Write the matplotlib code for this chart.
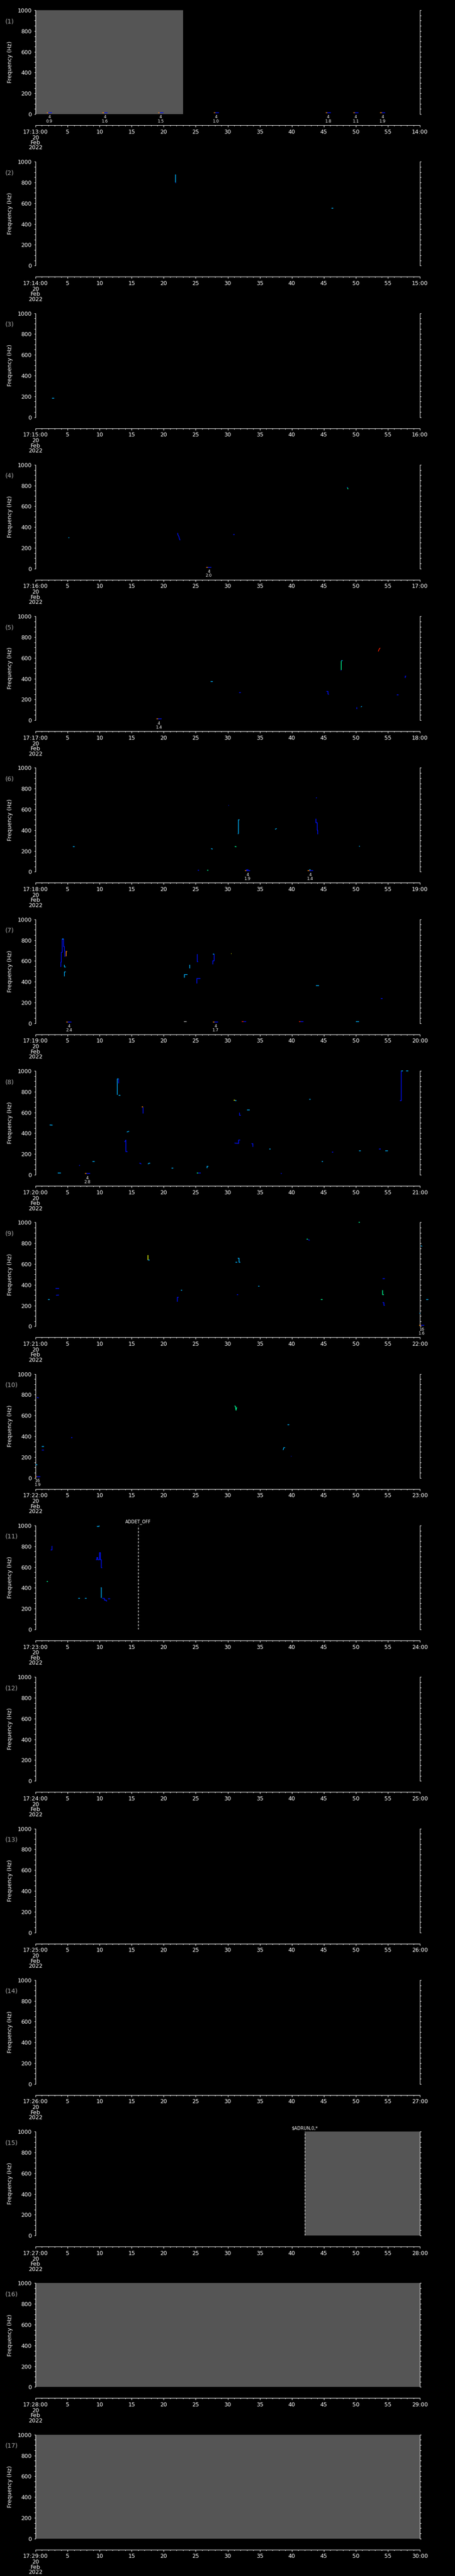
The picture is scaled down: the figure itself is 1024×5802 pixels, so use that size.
import matplotlib
matplotlib.use("Agg")
import matplotlib.pyplot as plt
from matplotlib.ticker import MultipleLocator

# ---------------------------------------------------------------- style
BG = "black"
FG = "white"
NODATA = "#555555"
TAG = "#a8a8a8"
B = "#0010ff"   # blue
C = "#00b4ff"   # cyan
G = "#00ff96"   # green
Y = "#f0ff00"   # yellow
O = "#ff8c00"   # orange
R = "#ff2000"   # red

W, H, DPI = 1024, 5802, 100
N_PANELS = 17

plt.rcParams["font.family"] = ["DejaVu Sans"]
plt.rcParams["text.color"] = FG

# ---------------------------------------------------------------- data
START_LABELS = ["17:13:00", "17:14:00", "17:15:00", "17:16:00", "17:17:00",
                "17:18:00", "17:19:00", "17:20:00", "17:21:00", "17:22:00",
                "17:23:00", "17:24:00", "17:25:00", "17:26:00", "17:27:00",
                "17:28:00", "17:29:00"]
END_LABELS = ["14:00", "15:00", "16:00", "17:00", "18:00", "19:00", "20:00",
              "21:00", "22:00", "23:00", "24:00", "25:00", "26:00", "27:00",
              "28:00", "29:00", "30:00"]
MID_LABELS = ["5", "10", "15", "20", "25", "30", "35", "40", "45", "50", "55"]
DATE_LINES = ["20", "Feb", "2022"]

# no-data spans (minutes) per panel
GRAY_SPANS = {1: (0, 23), 15: (42, 60), 16: (0, 60), 17: (0, 60)}
# event lines (minute, label)
EVENTS = {11: (16, "ADDET_OFF"), 15: (42, "$ADRUN,0,*")}

# small annotations at the bottom of the panels
ANNOT_T = {1: [2.15, 10.85, 19.55, 28.2, 45.7, 50.0, 54.2], 4: [27.05],
           5: [19.26], 6: [33.1, 42.9], 7: [5.2, 28.1], 8: [8.1],
           9: [60.3], 10: [0.35]}
ANNOT_N = {1: ["4"] * 7, 4: ["4"], 5: ["4"], 6: ["4", "4"], 7: ["4", "4"],
           8: ["4"], 9: ["16"], 10: ["16"]}
ANNOT_V = {1: ["0.9", "1.6", "1.5", "1.0", "1.8", "1.1", "1.9"], 4: ["2.0"],
           5: ["1.4"], 6: ["1.9", "1.4"], 7: ["2.4", "1.7"], 8: ["2.8"],
           9: ["1.6"], 10: ["1.9"]}

# traces: (minutes, frequencies Hz, colour)
MARKS_2 = [([21.82, 21.82], [878, 800], C), ([21.82, 21.95], [796, 796], B),
           ([46.2, 46.45], [554, 554], C)]
MARKS_3 = [([2.6, 2.9], [182, 182], C)]
MARKS_4 = [([5.1, 5.3], [299, 299], C),
           ([22.2, 22.2, 22.38, 22.45, 22.56], [344, 330, 308, 290, 274], B),
           ([30.9, 31.05], [330, 330], B),
           ([48.6, 48.7], [785, 782], B), ([48.7, 48.78], [780, 765], G)]
MARKS_5 = [([27.3, 27.65], [371, 371], C),
           ([31.8, 32.05], [265, 265], B),
           ([45.4, 45.65, 45.65, 45.8], [277, 277, 252, 249], B),
           ([47.75, 47.75], [482, 570], G), ([47.75, 47.95], [573, 573], C),
           ([47.65, 47.75], [480, 480], B),
           ([53.5, 53.65, 53.8], [662, 685, 696], R),
           ([50.15, 50.15], [106, 126], B),
           ([50.8, 50.95], [128, 134], C),
           ([56.4, 56.7], [243, 243], B),
           ([57.7, 57.7, 57.85], [405, 425, 425], B)]
MARKS_6 = [([5.85, 6.1], [240, 240], C),
           ([25.3, 25.5], [14, 14], B),
           ([26.8, 26.95], [14, 14], G),
           ([27.4, 27.65], [223, 218], C),
           ([30.1, 30.18], [637, 637], B),
           ([31.1, 31.35], [243, 240], G),
           ([31.6, 31.67, 31.67, 31.85], [363, 370, 500, 500], C),
           ([32.9, 33.2], [20, 20], B),
           ([37.4, 37.55, 37.65], [408, 414, 416], C),
           ([43.8, 43.88], [712, 712], B),
           ([43.8, 43.8, 43.95, 43.95, 44.05, 44.05],
            [511, 470, 470, 400, 400, 363], B),
           ([42.7, 42.95], [20, 20], C),
           ([50.5, 50.65], [246, 246], C)]
MARKS_7 = [([3.85, 3.95, 3.95, 4.05, 4.05, 4.15, 4.15, 4.4, 4.4, 4.5, 4.5, 4.6, 4.6],
            [545, 545, 590, 590, 684, 684, 810, 810, 740, 740, 700, 700, 640], B),
           ([4.15, 4.4], [810, 810], C),
           ([4.75, 4.8, 4.8, 4.95], [648, 648, 690, 690], O),
           ([4.45, 4.5, 4.5, 4.75], [560, 560, 542, 542], C),
           ([4.5, 4.5, 4.75], [452, 494, 494], C),
           ([23.25, 23.25, 23.7], [438, 469, 469], C),
           ([24.1, 24.1], [531, 564], C),
           ([25.25, 25.25, 25.4], [665, 592, 592], B),
           ([25.15, 25.15, 25.7], [385, 430, 430], B),
           ([27.65, 27.65, 27.85, 27.85], [567, 600, 600, 665], B),
           ([27.7, 27.85], [665, 665], C),
           ([30.5, 30.6], [670, 670], Y),
           ([43.8, 44.25], [363, 363], C),
           ([53.9, 54.15], [237, 237], B),
           ([23.15, 23.6], [17, 17], "#b0b0b0"),
           ([32.2, 32.45], [14, 14], R), ([32.45, 32.85], [14, 14], B),
           ([41.1, 41.35], [14, 14], R), ([41.35, 41.8], [14, 14], B),
           ([50.0, 50.5], [14, 14], C)]
MARKS_8 = [([2.2, 2.65], [480, 478], C),
           ([3.5, 3.95], [17, 17], C),
           ([6.8, 6.95], [92, 92], B),
           ([8.9, 9.2], [128, 128], C),
           ([12.73, 12.73, 12.95], [768, 922, 922], C),
           ([12.95, 12.95], [922, 880], B),
           ([13.0, 13.25], [766, 766], C),
           ([13.9, 14.1, 14.1, 14.35], [316, 335, 223, 223], B),
           ([14.25, 14.6], [412, 419], C),
           ([16.6, 16.8], [656, 656], O),
           ([16.8, 16.8], [650, 592], B),
           ([16.2, 16.35, 16.5], [112, 112, 103], B),
           ([17.55, 17.7, 17.9], [103, 112, 112], C),
           ([21.25, 21.5], [64, 64], C),
           ([25.2, 25.4], [17, 17], G), ([25.4, 25.8], [17, 17], B),
           ([26.75, 26.75, 27.0], [64, 81, 81], C),
           ([30.95, 31.15], [720, 720], Y),
           ([31.15, 31.35], [716, 716], C),
           ([31.05, 31.7, 31.7, 31.95], [306, 302, 335, 335], B),
           ([31.85, 31.85, 32.05], [600, 572, 572], B),
           ([33.0, 33.4], [623, 623], C),
           ([33.7, 33.9, 33.9], [299, 299, 271], B),
           ([36.5, 36.7], [249, 249], C),
           ([38.3, 38.45], [14, 14], B),
           ([42.7, 42.95], [726, 726], C),
           ([44.7, 44.85], [128, 128], C),
           ([46.3, 46.5], [218, 218], B),
           ([50.5, 50.8], [229, 229], C),
           ([53.6, 53.9], [246, 246], B),
           ([54.6, 55.0], [229, 229], C),
           ([56.85, 57.1, 57.1], [712, 712, 1000], B),
           ([57.1, 57.35], [1000, 1000], C),
           ([57.85, 58.2], [1000, 1000], C)]
MARKS_9 = [([1.95, 2.2], [257, 257], C),
           ([3.15, 3.7], [366, 366], B),
           ([3.2, 3.65], [299, 301], B),
           ([17.55, 17.55], [684, 640], Y),
           ([17.55, 17.8], [637, 637], C),
           ([22.15, 22.15, 22.35], [237, 279, 279], B),
           ([22.65, 22.9], [349, 349], C),
           ([31.2, 31.5], [615, 615], C),
           ([31.55, 31.8, 31.8, 32.0], [656, 656, 615, 615], C),
           ([31.4, 31.6], [304, 304], B),
           ([34.75, 34.95], [388, 388], C),
           ([42.3, 42.55], [838, 838], G),
           ([42.55, 42.8], [834, 828], B),
           ([44.5, 44.8], [257, 257], G),
           ([50.45, 50.65], [1000, 1000], G),
           ([54.2, 54.2, 54.35], [349, 307, 307], G),
           ([54.2, 54.5], [458, 458], B),
           ([54.2, 54.35, 54.35, 54.55], [226, 226, 201, 201], B),
           ([60.15, 60.35], [776, 770], C),
           ([59.95, 60.1], [126, 126], C),
           ([60.95, 61.3], [260, 260], C)]
MARKS_10 = [([0.2, 0.5], [774, 770], B),
            ([0.0, 0.25], [128, 128], C),
            ([1.0, 1.3], [302, 302], C),
            ([1.0, 1.3], [268, 268], B),
            ([5.55, 5.75], [388, 388], B),
            ([31.05, 31.2, 31.3, 31.4], [693, 690, 651, 680], G),
            ([39.3, 39.6], [511, 511], C),
            ([38.65, 38.75, 38.95], [268, 291, 291], C),
            ([39.85, 39.95], [207, 207], B)]
MARKS_11 = [([1.75, 1.95], [463, 463], G),
            ([2.35, 2.6, 2.6], [764, 764, 803], B),
            ([6.65, 6.95], [300, 300], C),
            ([7.7, 7.95], [300, 300], C),
            ([9.6, 9.95, 9.95], [990, 990, 1000], C),
            ([9.42, 9.56, 9.56, 9.74, 9.74, 9.97, 9.97, 10.1, 10.1, 10.24, 10.24, 10.38],
             [671, 671, 691, 691, 671, 671, 739, 739, 671, 671, 593, 593], B),
            ([10.2, 10.3, 10.3], [402, 402, 303], C),
            ([10.4, 10.75, 10.75, 11.0, 11.0, 11.2], [298, 298, 283, 283, 272, 272], B),
            ([11.3, 11.65], [295, 295], B)]

MARKS = {2: MARKS_2, 3: MARKS_3, 4: MARKS_4, 5: MARKS_5, 6: MARKS_6,
         7: MARKS_7, 8: MARKS_8, 9: MARKS_9, 10: MARKS_10, 11: MARKS_11}

# ---------------------------------------------------------------- figure
fig = plt.figure(figsize=(W / DPI, H / DPI), dpi=DPI, facecolor=BG)
slot = H / N_PANELS
px2pt = 72.0 / DPI

for i in range(N_PANELS):
    k = i + 1
    top = i * slot + 23
    ax = fig.add_axes([80 / W, 1 - (top + 234) / H, 865 / W, 234 / H])
    ax.set_facecolor(BG)
    ax.set_xlim(0, 60)
    ax.set_ylim(0, 1000)

    ax.spines["top"].set_visible(False)
    for s in ("left", "right", "bottom"):
        ax.spines[s].set_color(FG)
        ax.spines[s].set_linewidth(0.8)
    ax.spines["bottom"].set_position(("outward", 25 * px2pt))

    # time axis
    ax.set_xticks(range(0, 61, 5), [START_LABELS[i]] + MID_LABELS + [END_LABELS[i]])
    ax.xaxis.set_minor_locator(MultipleLocator(1))
    ax.tick_params(axis="x", which="major", direction="out", length=3.2,
                   width=0.8, colors=FG, labelsize=9, pad=3)
    ax.tick_params(axis="x", which="minor", direction="out", length=1.7,
                   width=0.8, colors=FG)
    # frequency axis
    ax.set_yticks(range(0, 1001, 200))
    ax.yaxis.set_minor_locator(MultipleLocator(50))
    ax.tick_params(axis="y", which="both", direction="out", length=2.4,
                   width=0.8, colors=FG, labelsize=9, pad=4,
                   left=True, right=True, labelleft=True, labelright=False)

    for j, line in enumerate(DATE_LINES):
        ax.annotate(line, (0, 0), xycoords=("data", "axes fraction"),
                    xytext=(0, -(53 + 11.5 * j) * px2pt), textcoords="offset points",
                    ha="center", va="center", fontsize=9, color=FG)

    fig.text(23 / W, 1 - (top + 117) / H, "Frequency (Hz)", rotation=90,
             ha="center", va="center", fontsize=9, color=FG)
    fig.text(12 / W, 1 - (top + 25) / H, f"({k})", ha="left", va="center",
             fontsize=10, color=TAG)

    if k in GRAY_SPANS:
        t0, t1 = GRAY_SPANS[k]
        ax.axvspan(t0, t1, color=NODATA, lw=0, zorder=0.5)

    if k in EVENTS:
        t, lab = EVENTS[k]
        ax.axvline(t, color=FG, lw=0.8, ls=(0, (4, 3)), zorder=2)
        ax.annotate(lab, (t, 1), xycoords=("data", "axes fraction"),
                    xytext=(0, 2), textcoords="offset points",
                    ha="center", va="bottom", fontsize=7, color=FG)

    for ts, fs, col in MARKS.get(k, []):
        ax.plot(ts, fs, color=col, lw=1.1, solid_capstyle="butt",
                clip_on=False, zorder=3)

    for t, n, v in zip(ANNOT_T.get(k, []), ANNOT_N.get(k, []), ANNOT_V.get(k, [])):
        ax.plot([t - 0.35, t - 0.12], [12, 12], color=O, lw=1.1,
                clip_on=False, zorder=3)
        ax.plot([t - 0.12, t + 0.35], [12, 12], color=B, lw=1.1,
                clip_on=False, zorder=3)
        ax.annotate(n, (t, 0), xycoords=("data", "axes fraction"),
                    xytext=(0, -7 * px2pt), textcoords="offset points",
                    ha="center", va="center", fontsize=6.5, color=FG)
        ax.annotate(v, (t, 0), xycoords=("data", "axes fraction"),
                    xytext=(0, -16 * px2pt), textcoords="offset points",
                    ha="center", va="center", fontsize=6.5, color=FG)

fig.savefig("out.png", dpi=DPI, facecolor=BG)
